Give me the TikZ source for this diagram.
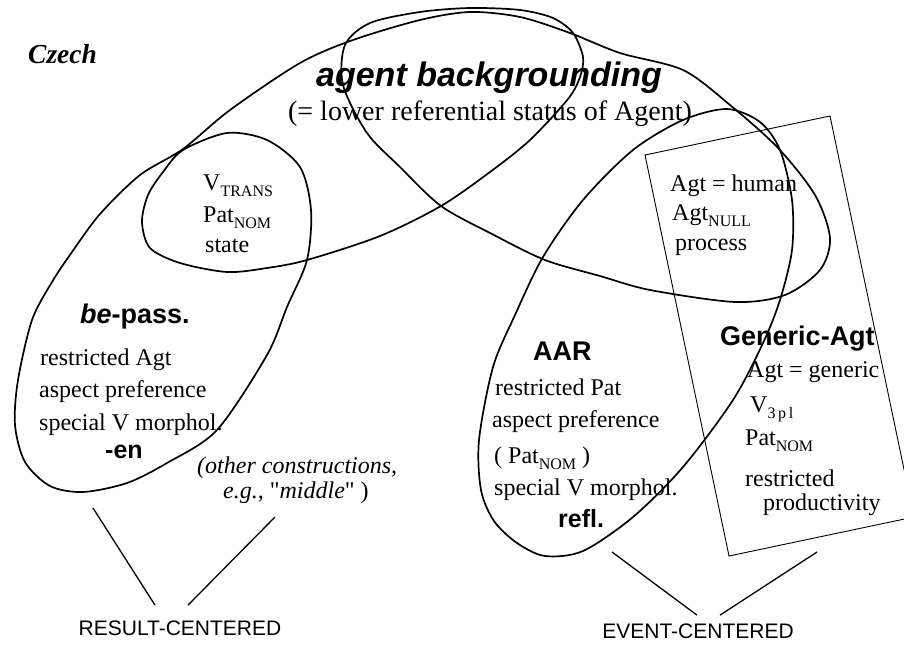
\documentclass[tikz,border=0pt]{standalone}
\usepackage{fontspec}
\setmainfont{Liberation Serif}
\setsansfont{Liberation Sans}
\usepackage{tikz}
\usetikzlibrary{calc}
\newcommand{\lowsub}[1]{\raisebox{-6.5pt}{\fontsize{16}{16}\selectfont #1}}

\begin{document}
\begin{tikzpicture}[x=1pt, y=-1pt,
    loopline/.style={line width=1.7pt, line join=round},
    boxline/.style={line width=0.9pt},
    tieline/.style={line width=1.3pt},
    lbl/.style={anchor=base west, inner sep=0pt, font=\fontsize{24}{28}\selectfont},
    head/.style={anchor=base west, inner sep=0pt, font=\sffamily\bfseries\fontsize{27}{30}\selectfont},
    morph/.style={anchor=base west, inner sep=0pt, font=\sffamily\bfseries\fontsize{25}{28}\selectfont},
    cat/.style={anchor=base, inner sep=0pt, font=\sffamily\fontsize{21}{24}\selectfont}]
  \useasboundingbox (0,0) rectangle (904,645);

  \draw[loopline] plot[smooth cycle] coordinates {
    (83,492) (50,486) (25,462) (15,425) (18,380) (32,320) (52,282) (72,252)
    (100,214) (140,175) (183,149) (230,110) (300,63) (353,40) (420,20) (470,12)
    (520,17) (570,33) (620,53) (683,70) (730,105) (778,148) (815,195) (830,238)
    (820,270) (785,295) (735,302) (650,290) (600,276) (545,260) (492,234) (441,206)
    (400,167) (367,133) (343,85) (345,45) (370,23) (420,12) (470,8) (520,10)
    (553,18) (573,33) (583,57) (580,77) (568,99) (530,140) (490,172) (441,206)
    (380,236) (307,260) (267,268) (227,272) (180,263) (150,248) (142,222) (148,195)
    (163,172) (183,150) (227,133) (267,140) (300,167) (311,210) (307,260) (287,307)
    (267,355) (217,430) (167,463) (127,483)};

  \draw[loopline] plot[smooth cycle] coordinates {
    (727,109) (683,120) (633,150) (583,200) (543,257) (515,315) (493,367) (479,440)
    (481,490) (494,521) (517,543) (545,556) (583,551) (633,517) (683,467) (733,400)
    (763,343) (780,300) (792,250) (792,200) (780,150) (760,122)};

  \coordinate (g1) at (645,155);
  \coordinate (g2) at (830,116);
  \coordinate (g3) at (914,517);
  \coordinate (g4) at (729,556);
  \draw[boxline] (g1) -- (g2) -- (g3) -- (g4) -- cycle;

  \node[anchor=base west, inner sep=0pt, font=\bfseries\itshape\fontsize{27.5}{30}\selectfont] (czech) at (28,63) {Czech};
  \node[anchor=base, inner sep=0pt, font=\sffamily\bfseries\itshape\fontsize{34}{38}\selectfont] (agbg) at (489,86) {agent backgrounding};
  \node[anchor=base, inner sep=0pt, font=\fontsize{28}{32}\selectfont] (agbgsub) at (490,120) {(= lower referential status of Agent)};

  \node[lbl] (vtrans) at (203,190) {V\lowsub{TRANS}};
  \node[lbl] (patnom) at (203,222) {Pat\lowsub{NOM}};
  \node[lbl] (state) at (205,252) {state};

  \node[lbl] (human) at (670,191) {Agt = human};
  \node[lbl] (agtnull) at (672,220) {Agt\lowsub{NULL}};
  \node[lbl] (process) at (675,250) {process};

  \node[head] (bepass) at (80,323) {{\itshape be}-pass.};
  \node[lbl] (bp1) at (40,365) {restricted Agt};
  \node[lbl] (bp2) at (39,397) {aspect preference};
  \node[lbl] (bp3) at (39,430) {special V morphol.};
  \node[morph] (en) at (105,458) {-en};
  \node[lbl] (other1) at (197,473) {\itshape (other constructions,};
  \node[lbl] (other2) at (223,498) {{\itshape e.g.,} \textquotedbl{\itshape middle}\textquotedbl\ )};

  \node[head] (aar) at (533,360) {AAR};
  \node[lbl] (aar1) at (495,395) {restricted Pat};
  \node[lbl] (aar2) at (492,427) {aspect preference};
  \node[lbl] (aar3) at (494,463) {( Pat\lowsub{NOM} )};
  \node[lbl] (aar4) at (494,495) {special V morphol.};
  \node[morph] (refl) at (558,527) {refl.};

  \node[head] (gen) at (720,345) {Generic-Agt};
  \node[lbl] (gen1) at (747,377) {Agt = generic};
  \node[lbl] (gen2) at (750,412) {V\lowsub{3\,p\,l}};
  \node[lbl] (gen3) at (745,445) {Pat\lowsub{NOM}};
  \node[lbl] (gen4) at (745,486) {restricted};
  \node[lbl] (gen5) at (763,510) {productivity};

  \node[cat] (result) at (180,635) {RESULT-CENTERED};
  \node[cat] (event) at (698,638) {EVENT-CENTERED};

  \coordinate (rl) at (93,508);
  \coordinate (rr) at (275,517);
  \coordinate (el) at (612,552);
  \coordinate (er) at (817,552);
  \draw[tieline] (rl) -- ($(result.north)+(-25,-15)$);
  \draw[tieline] (rr) -- ($(result.north)+(8,-15)$);
  \draw[tieline] (el) -- ($(event.north)+(-1,-8)$);
  \draw[tieline] (er) -- ($(event.north)+(22,-8)$);
\end{tikzpicture}
\end{document}
